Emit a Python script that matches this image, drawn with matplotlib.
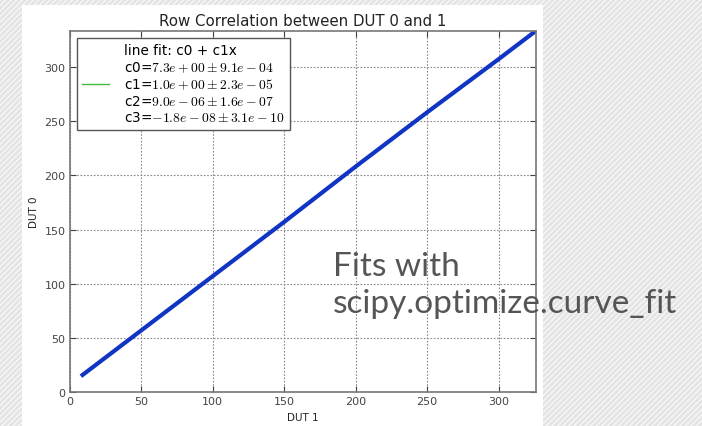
import matplotlib
matplotlib.use('Agg')
import matplotlib.pyplot as plt
from matplotlib.patches import Rectangle

# points
dut1 = [9, 50, 100, 150, 200, 250, 300, 326]
dut0 = [16, 57, 107, 157, 208, 258, 307, 333]

fit_label = ("line fit: c0 + c1x\n"
             "c0=$7.3e+00 \\pm 9.1e-04$\n"
             "c1=$1.0e+00 \\pm 2.3e-05$\n"
             "c2=$9.0e-06 \\pm 1.6e-07$\n"
             "c3=$-1.8e-08 \\pm 3.1e-10$")

xticks = [0, 50, 100, 150, 200, 250, 300]
yticks = [0, 50, 100, 150, 200, 250, 300]

plt.rcParams['mathtext.fontset'] = 'cm'
plt.rcParams['hatch.color'] = '#f8f8f8'
plt.rcParams['hatch.linewidth'] = 1.0

fig = plt.figure(figsize=(7.02, 4.27), dpi=100)
fig.patch.set_facecolor('#e3e3e3')

# slide background: hatched grey with white panel
fig.patches.append(Rectangle((0, 0), 1, 1, transform=fig.transFigure,
                             facecolor='#e3e3e3', hatch='//////', edgecolor='#f8f8f8',
                             linewidth=0, zorder=-10))
fig.patches.append(Rectangle((22/702, 0), (543-22)/702, 1-6/427, transform=fig.transFigure,
                             facecolor='white', edgecolor='none', zorder=-9))

ax = fig.add_axes([69.7/702, 1-393.3/427, (535.7-69.7)/702, (393.3-32)/427])
ax.plot(dut1, dut0, color='#1034c4', linewidth=3)
ax.plot([], [], color='#44bb44', linewidth=1, label=fit_label)

ax.set_xlim(0, 326)
ax.set_ylim(0, 333)
ax.set_xticks(xticks)
ax.set_yticks(yticks)
ax.grid(True, linestyle=(0, (1.5, 1.5)), color='#8a8a8a', linewidth=0.8)
ax.tick_params(direction='in', top=True, right=True, labelsize=8, length=4, pad=3, colors='#444444')
for s in ax.spines.values():
    s.set_color('#777777')
    s.set_linewidth(1.2)

ax.set_title('Row Correlation between DUT 0 and 1', fontsize=10.8, pad=4, color='#222222')
ax.set_xlabel('DUT 1', fontsize=7.5, labelpad=4, color='#222222')
ax.set_ylabel('DUT 0', fontsize=7.5, labelpad=4, color='#222222')

leg = ax.legend(loc='upper left', fontsize=9.8, fancybox=False, framealpha=1,
                handlelength=2.0, handletextpad=1.1, borderaxespad=0.5, borderpad=0.4)
leg.get_texts()[0].set_linespacing(1.22)
leg.get_frame().set_edgecolor('#555555')
leg.get_frame().set_linewidth(1.0)

fig.text(333/702, 1-313/427, 'Fits with\nscipy.optimize.curve_fit', fontsize=24,
         family='Lato', color='#555555', linespacing=1.3, va='baseline')

fig.savefig('out.png', dpi=100, facecolor=fig.get_facecolor())
